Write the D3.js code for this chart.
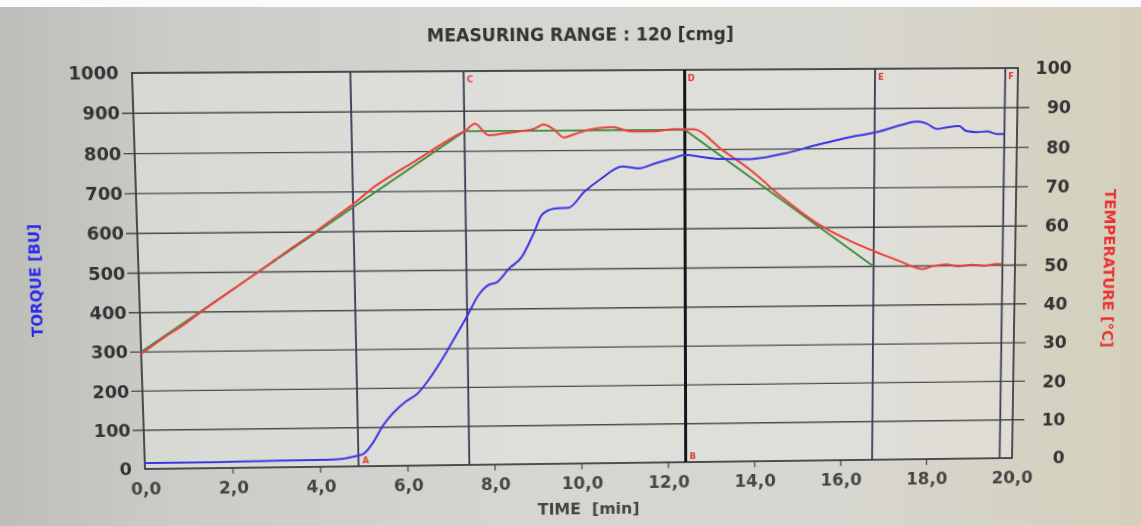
<!DOCTYPE html>
<html><head><meta charset="utf-8">
<script src="https://cdn.jsdelivr.net/npm/d3@7"></script>
<style>
html,body{margin:0;padding:0;}
body{width:1141px;height:526px;overflow:hidden;position:relative;
background:linear-gradient(90deg,#bdbdb9 0%,#cbcbc7 15%,#d5d5d1 45%,#d7d6d1 72%,#d4d0bb 100%);}
#band{position:absolute;left:0;top:0;width:1141px;height:7px;background:#fbfbfb;}
#chart{position:absolute;left:0;top:0;transform-origin:0 0;overflow:visible;}
</style></head><body>
<div id="band"></div>
<svg id="chart" width="1141" height="526"></svg>
<script>
// ---------------- data ----------------
const torqueTicks = [0,100,200,300,400,500,600,700,800,900,1000];
const tempTicks = [0,10,20,30,40,50,60,70,80,90,100];
const timeTicks = [0,2,4,6,8,10,12,14,16,18,20];
const timeTickLabels = ["0,0","2,0","4,0","6,0","8,0","10,0","12,0","14,0","16,0","18,0","20,0"];

const torqueTime = [0,1,2,3,4,4.5,4.8,5.0,5.22,5.45,5.68,5.98,6.25,6.53,6.83,7.13,7.40,7.68,7.91,8.09,8.37,8.67,8.94,9.15,9.43,9.75,10.11,10.5,10.97,11.36,11.72,12.11,12.41,12.74,13.2,13.88,14.64,15.4,16.18,16.78,17.33,17.7,17.93,18.16,18.39,18.67,18.83,19.08,19.31,19.54,19.71];
const torqueBU   = [15,15,16,17,18,20,26,33,62,105,136,166,186,224,274,330,381,437,462,468,502,532,590,640,654,656,696,729,759,754,766,778,787,782,776,775,788,809,829,841,858,867,861,848,852,855,842,839,841,834,834];

const tempTime = [0,0.5,1,1.5,2,2.5,3,3.5,4,4.5,4.87,5.3,5.8,6.3,6.8,7.2,7.45,7.65,7.95,8.3,8.67,9.0,9.2,9.42,9.66,9.9,10.2,10.74,11.2,11.66,12.18,12.6,13.26,13.89,14.64,15.4,16.18,16.78,17.33,17.7,17.86,18.1,18.4,18.7,19.0,19.3,19.55,19.71];
const tempC    = [29.5,33.4,37,41,44.8,48.6,52.4,56.3,60,64,66.9,70.8,74.4,77.7,81.2,83.8,85.3,86.9,84,84.4,84.9,85.6,86.6,85.4,83.3,84.1,85.1,85.8,84.7,84.7,85.2,85.1,79.8,74.8,67.6,61.3,56.6,53.7,51.3,49.6,49.2,49.9,50.3,49.8,50.2,49.9,50.3,50.3];

const setTime = [0,7.41,12.40,16.73];
const setTemp = [30,85,85,50];

const markerTime = [4.87,7.41,12.40,16.73,19.71];
const markerTopLabel = ["","C","D","E","F"];
const markerBottomLabel = ["A","","B","",""];

const titleText = "MEASURING RANGE : 120 [cmg]";
const xTitle = "TIME  [min]";
const yLeftTitle = "TORQUE [BU]";
const yRightTitle = "TEMPERATURE [°C]";

// ---------------- layout ----------------
const L = 140, R = 1015, T = 71, B = 464;
const svg = d3.select("#chart");

const x = d3.scaleLinear().domain([0,20]).range([L,R]);
const yT = d3.scaleLinear().domain([0,1000]).range([B,T]);
const yC = d3.scaleLinear().domain([0,100]).range([B,T]);

const font = "'DejaVu Sans', Arial, sans-serif";

// plot fill
svg.append("rect").attr("x",L).attr("y",T).attr("width",R-L).attr("height",B-T)
  .attr("fill","rgba(232,232,229,0.45)");

// horizontal grid (extends outside as ticks)
const inner = torqueTicks.filter(d => d > 0 && d < 1000);
svg.append("g").selectAll("line").data(inner).join("line")
  .attr("x1",L-11).attr("x2",R+12)
  .attr("y1",d=>yT(d)).attr("y2",d=>yT(d))
  .attr("stroke","#4a4a4a").attr("stroke-width",1.4);

// left axis labels
const gl = svg.append("g").attr("transform",`translate(${L},0)`);
gl.call(d3.axisLeft(yT).tickValues(torqueTicks).tickSize(0).tickPadding(13).tickFormat(d3.format("d")));
gl.select(".domain").remove();
gl.selectAll("text").attr("font-family",font).attr("font-weight","bold")
  .attr("font-size","17.5px").attr("fill","#333");

// right axis labels
const gr = svg.append("g").attr("transform",`translate(${R+54},0)`);
gr.call(d3.axisLeft(yC).tickValues(tempTicks).tickSize(0).tickPadding(0).tickFormat(d3.format("d")));
gr.select(".domain").remove();
gr.selectAll("text").attr("font-family",font).attr("font-weight","bold")
  .attr("font-size","17.5px").attr("fill","#333");

// bottom axis
const gb = svg.append("g").attr("transform",`translate(0,${B})`);
gb.call(d3.axisBottom(x).tickValues(timeTicks).tickSize(0).tickPadding(14)
  .tickFormat((d,i)=>timeTickLabels[i]));
gb.select(".domain").remove();
gb.selectAll("text").attr("font-family",font).attr("font-weight","bold")
  .attr("font-size","17px").attr("fill","#464646");
svg.append("g").selectAll("line").data(timeTicks.filter(d=>d>0&&d<20)).join("line")
  .attr("x1",d=>x(d)).attr("x2",d=>x(d)).attr("y1",B).attr("y2",B+6)
  .attr("stroke","#555").attr("stroke-width",1.4);

// frame
svg.append("rect").attr("x",L).attr("y",T).attr("width",R-L).attr("height",B-T)
  .attr("fill","none").attr("stroke","#3c3c44").attr("stroke-width",1.8);

// marker lines
svg.append("g").selectAll("line").data(markerTime).join("line")
  .attr("x1",d=>x(d)).attr("x2",d=>x(d)).attr("y1",T).attr("y2",B)
  .attr("stroke",(d,i)=> i===2 ? "#15151c" : "#3a3a55")
  .attr("stroke-width",(d,i)=> i===2 ? 3 : 1.8);
svg.append("g").selectAll("text").data(markerTime).join("text")
  .attr("x",d=>x(d)+3).attr("y",T+11)
  .text((d,i)=>markerTopLabel[i])
  .attr("font-family",font).attr("font-weight","bold").attr("font-size","8.5px").attr("fill","#e03a3a");
svg.append("g").selectAll("text").data(markerTime).join("text")
  .attr("x",d=>x(d)+4).attr("y",B-3)
  .text((d,i)=>markerBottomLabel[i])
  .attr("font-family",font).attr("font-weight","bold").attr("font-size","8.5px").attr("fill","#e03a3a");

// curves
const lineSet = d3.line().x((d,i)=>x(setTime[i])).y(d=>yC(d));
svg.append("path").attr("d",lineSet(setTemp)).attr("fill","none")
  .attr("stroke","#3c8a3a").attr("stroke-width",1.8);

const lineTemp = d3.line().x((d,i)=>x(tempTime[i])).y(d=>yC(d)).curve(d3.curveMonotoneX);
svg.append("path").attr("d",lineTemp(tempC)).attr("fill","none")
  .attr("stroke","#e8423e").attr("stroke-width",2);

const lineTorque = d3.line().x((d,i)=>x(torqueTime[i])).y(d=>yT(d)).curve(d3.curveMonotoneX);
svg.append("path").attr("d",lineTorque(torqueBU)).attr("fill","none")
  .attr("stroke","#3a34e2").attr("stroke-width",2);

// titles
svg.append("text").attr("x",580).attr("y",T-29).attr("text-anchor","middle")
  .attr("font-family",font).attr("font-weight","bold").attr("font-size","17px")
  .attr("fill","#333").text(titleText);
svg.append("text").attr("x",584).attr("y",B+52).attr("text-anchor","middle")
  .attr("font-family",font).attr("font-weight","bold").attr("font-size","16px")
  .attr("fill","#444").style("white-space","pre").text(xTitle);
svg.append("text").attr("transform",`translate(${L-101},274) rotate(-90)`)
  .attr("text-anchor","middle").attr("dominant-baseline","central")
  .attr("font-family",font).attr("font-weight","bold").attr("font-size","15px")
  .attr("fill","#2a2ae8").text(yLeftTitle);
svg.append("text").attr("transform",`translate(${R+95},272) rotate(90)`)
  .attr("text-anchor","middle").attr("dominant-baseline","central")
  .attr("font-family",font).attr("font-weight","bold").attr("font-size","15px")
  .attr("fill","#ea3030").text(yRightTitle);

// ---------------- photo perspective (keystone) ----------------
function solve(A,b){
  const n=b.length; const M=A.map((r,i)=>r.concat([b[i]]));
  for(let c=0;c<n;c++){
    let p=c; for(let r=c+1;r<n;r++) if(Math.abs(M[r][c])>Math.abs(M[p][c])) p=r;
    [M[c],M[p]]=[M[p],M[c]];
    for(let r=0;r<n;r++){ if(r===c) continue; const f=M[r][c]/M[c][c];
      for(let k=c;k<=n;k++) M[r][k]-=f*M[c][k]; }
  }
  return M.map((r,i)=>r[n]/r[i]);
}
const src=[[L,T],[R,T],[R,B],[L,B]];
const dst=[[132,73],[1018,68],[1012,458],[145,469]];
const A=[],bb=[];
for(let i=0;i<4;i++){const [sx,sy]=src[i],[u,v]=dst[i];
  A.push([sx,sy,1,0,0,0,-u*sx,-u*sy]); bb.push(u);
  A.push([0,0,0,sx,sy,1,-v*sx,-v*sy]); bb.push(v);}
const h=solve(A,bb);
document.getElementById("chart").style.transform =
  `matrix3d(${h[0]},${h[3]},0,${h[6]},${h[1]},${h[4]},0,${h[7]},0,0,1,0,${h[2]},${h[5]},0,1)`;
</script>
</body></html>
